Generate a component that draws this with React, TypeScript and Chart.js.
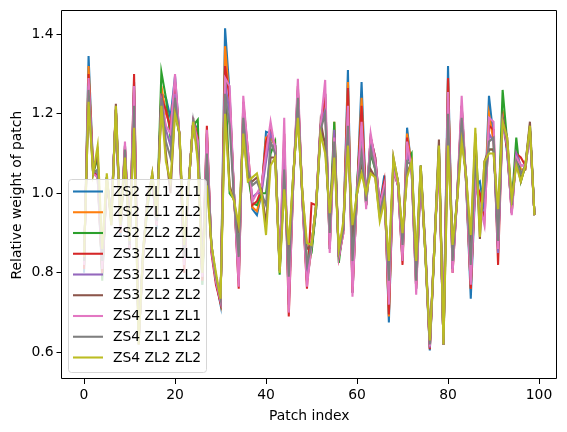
import React, { useEffect, useRef } from "react";
import { Chart, registerables } from "chart.js";
Chart.register(...registerables);

const zs2zl1zl1 = [0.80,1.345,1.06,1.04,0.79,1.03,0.95,1.205,0.89,1.12,0.86,1.28,0.63,0.84,1.0,1.03,0.91,1.25,1.24,1.19,1.295,1.14,0.83,1.02,1.18,1.16,0.77,1.15,0.86,0.78,0.72,1.415,1.25,0.99,0.78,1.22,1.1,0.96,0.945,1.0,1.155,1.15,1.12,0.81,1.13,0.72,1.03,1.26,0.98,0.78,0.86,0.96,1.16,1.25,0.86,1.16,0.84,0.91,1.31,0.75,1.0,1.28,0.97,1.14,1.09,0.97,1.045,0.675,1.06,1.02,0.83,1.165,1.06,0.76,1.05,0.85,0.605,0.86,1.1,0.62,1.32,0.81,0.99,1.22,1.02,0.735,1.02,1.03,0.95,1.245,1.14,0.86,1.2,1.1,0.96,1.1,1.05,1.06,1.16,0.945];
const zs2zl1zl2 = [0.81,1.32,1.06,1.05,0.8,1.03,0.94,1.21,0.9,1.11,0.87,1.26,0.63,0.85,0.99,1.03,0.92,1.27,1.2,1.17,1.27,1.14,0.84,1.02,1.18,1.15,0.78,1.14,0.86,0.78,0.725,1.37,1.23,0.99,0.79,1.21,1.09,0.965,0.955,1.0,1.14,1.14,1.12,0.805,1.12,0.73,1.04,1.25,0.99,0.78,0.86,0.96,1.17,1.22,0.87,1.18,0.84,0.91,1.28,0.76,1.0,1.24,0.97,1.13,1.08,0.96,1.03,0.69,1.06,1.03,0.84,1.15,1.07,0.77,1.06,0.85,0.61,0.86,1.11,0.62,1.29,0.82,0.99,1.21,1.03,0.76,1.05,0.98,0.98,1.2,1.13,0.88,1.21,1.11,0.96,1.11,1.06,1.06,1.16,0.945];
const zs2zl2zl2 = [0.82,1.28,1.05,1.09,0.78,1.04,0.93,1.21,0.91,1.1,0.87,1.22,0.64,0.85,0.97,1.04,0.93,1.305,1.24,1.14,1.2,1.15,0.82,1.03,1.17,1.185,0.77,1.08,0.87,0.79,0.73,1.3,1.0,0.985,0.85,1.18,1.05,0.975,0.97,1.0,1.0,1.1,1.13,0.795,1.05,0.82,1.05,1.2,0.99,0.83,0.85,0.96,1.15,1.13,0.92,1.18,0.825,0.92,1.18,0.84,1.02,1.19,0.97,1.1,1.06,0.95,1.0,0.78,1.08,1.03,0.86,1.08,1.1,0.8,1.07,0.85,0.62,0.86,1.12,0.62,1.2,0.85,0.99,1.15,1.04,0.83,1.14,0.93,1.05,1.11,1.11,0.92,1.26,1.13,0.97,1.14,1.03,1.07,1.17,0.945];
const zs3zl1zl1 = [0.81,1.3,1.06,1.04,0.8,1.03,0.94,1.21,0.9,1.12,0.86,1.3,0.63,0.84,1.0,1.03,0.92,1.24,1.21,1.16,1.28,1.14,0.8,1.02,1.18,1.14,0.78,1.17,0.85,0.77,0.725,1.32,1.24,0.99,0.76,1.23,1.11,0.97,0.98,1.01,1.13,1.16,1.12,0.81,1.15,0.69,1.03,1.27,0.98,0.76,0.975,0.97,1.17,1.25,0.86,1.15,0.84,0.9,1.265,0.75,1.0,1.22,0.97,1.14,1.09,0.97,1.03,0.695,1.06,1.02,0.82,1.14,1.06,0.76,1.05,0.86,0.608,0.87,1.09,0.62,1.29,0.8,0.99,1.22,1.02,0.76,1.03,1.0,0.93,1.17,1.16,0.82,1.19,1.11,0.95,1.1,1.09,1.07,1.16,0.945];
const zs3zl1zl2 = [0.82,1.27,1.06,1.05,0.81,1.03,0.95,1.21,0.91,1.11,0.87,1.26,0.63,0.85,0.99,1.04,0.93,1.25,1.16,1.12,1.25,1.14,0.83,1.02,1.18,1.13,0.79,1.13,0.86,0.78,0.73,1.28,1.2,0.99,0.8,1.2,1.08,0.99,1.0,1.0,1.08,1.15,1.12,0.81,1.1,0.76,1.04,1.24,0.99,0.8,0.87,0.97,1.17,1.21,0.88,1.16,0.84,0.91,1.21,0.8,1.0,1.17,0.97,1.13,1.08,0.96,1.01,0.74,1.07,1.03,0.85,1.1,1.07,0.78,1.06,0.86,0.612,0.87,1.1,0.62,1.24,0.81,0.99,1.19,1.03,0.78,1.04,0.95,0.96,1.15,1.13,0.85,1.19,1.12,0.95,1.1,1.07,1.07,1.16,0.945];
const zs3zl2zl2 = [0.83,1.24,1.05,1.1,0.82,1.04,0.92,1.225,0.92,1.09,0.88,1.18,0.62,0.86,0.98,1.05,0.94,1.25,1.1,1.0,1.21,1.15,0.85,1.02,1.19,1.09,0.8,1.04,0.87,0.78,0.74,1.22,1.02,0.98,0.9,1.16,1.04,1.03,1.04,1.01,0.92,1.09,1.09,0.81,1.03,0.85,1.05,1.2,1.0,0.86,0.87,0.97,1.18,1.12,0.94,1.13,0.85,0.92,1.14,0.89,1.0,1.08,1.0,1.06,1.04,0.94,0.99,0.8,1.09,1.03,0.89,1.05,1.08,0.82,1.07,0.87,0.625,0.87,1.135,0.62,1.14,0.86,0.98,1.15,1.04,0.86,1.15,0.885,1.08,1.11,1.11,0.93,1.19,1.14,0.98,1.08,1.03,1.07,1.18,0.945];
const zs4zl1zl1 = [0.82,1.29,1.05,1.04,0.81,1.03,0.95,1.21,0.91,1.13,0.86,1.27,0.63,0.85,1.0,1.03,0.92,1.23,1.17,1.15,1.3,1.14,0.82,1.02,1.18,1.13,0.79,1.16,0.86,0.78,0.73,1.29,1.27,0.99,0.765,1.245,1.11,0.98,1.0,1.02,1.1,1.18,1.11,0.81,1.19,0.7,1.03,1.288,0.98,0.765,0.87,0.97,1.17,1.285,0.85,1.14,0.84,0.9,1.22,0.74,1.0,1.18,0.96,1.15,1.08,0.97,1.02,0.72,1.06,1.02,0.83,1.13,1.06,0.745,1.05,0.86,0.615,0.87,1.09,0.62,1.255,0.8,0.99,1.245,1.02,0.77,1.03,0.97,0.92,1.19,1.18,0.86,1.18,1.12,0.945,1.09,1.07,1.07,1.15,0.945];
const zs4zl1zl2 = [0.83,1.26,1.05,1.06,0.83,1.04,0.94,1.21,0.92,1.11,0.87,1.22,0.625,0.86,0.99,1.04,0.93,1.24,1.13,1.09,1.24,1.14,0.84,1.02,1.18,1.1,0.8,1.1,0.87,0.79,0.735,1.25,1.17,0.98,0.84,1.19,1.06,1.02,1.03,1.0,0.97,1.13,1.1,0.805,1.06,0.79,1.04,1.24,0.99,0.82,0.87,0.97,1.16,1.2,0.9,1.13,0.85,0.91,1.17,0.83,1.0,1.1,0.98,1.11,1.06,0.95,1.0,0.78,1.08,1.03,0.87,1.08,1.07,0.78,1.06,0.86,0.62,0.87,1.11,0.62,1.2,0.83,0.99,1.19,1.03,0.82,1.09,0.93,1.01,1.13,1.14,0.88,1.18,1.13,0.97,1.08,1.05,1.07,1.16,0.945];
const zs4zl2zl2 = [0.84,1.23,1.05,1.12,0.86,1.05,0.92,1.22,0.92,1.09,0.88,1.165,0.62,0.86,0.98,1.05,0.94,1.22,1.08,1.03,1.2,1.15,0.87,1.02,1.18,1.08,0.8,1.02,0.87,0.8,0.735,1.2,1.01,0.98,0.92,1.15,1.03,1.04,1.05,1.0,0.895,1.07,1.09,0.8,1.01,0.87,1.05,1.19,1.0,0.875,0.87,0.97,1.15,1.1,0.95,1.09,0.86,0.93,1.12,0.92,1.0,1.05,1.0,1.05,1.04,0.93,0.98,0.83,1.09,1.03,0.9,1.04,1.08,0.83,1.07,0.85,0.63,0.86,1.12,0.62,1.12,0.87,0.98,1.13,1.04,0.895,1.165,0.89,1.08,1.1,1.1,0.96,1.18,1.14,0.985,1.07,1.03,1.07,1.17,0.945];

const seriesNames = ["ZS2 ZL1 ZL1","ZS2 ZL1 ZL2","ZS2 ZL2 ZL2","ZS3 ZL1 ZL1","ZS3 ZL1 ZL2","ZS3 ZL2 ZL2","ZS4 ZL1 ZL1","ZS4 ZL1 ZL2","ZS4 ZL2 ZL2"];
const seriesValues = [zs2zl1zl1,zs2zl1zl2,zs2zl2zl2,zs3zl1zl1,zs3zl1zl2,zs3zl2zl2,zs4zl1zl1,zs4zl1zl2,zs4zl2zl2];
const seriesColors = ["#1f77b4","#ff7f0e","#2ca02c","#d62728","#9467bd","#8c564b","#e377c2","#7f7f7f","#bcbd22"];
const font = { family: "'DejaVu Sans'", size: 13.9 };
const tickGrid = { drawOnChartArea: false, drawTicks: true, tickLength: 5, tickWidth: 1, tickColor: "#000", color: "#000" };

export default function App() {
  const ref = useRef<HTMLCanvasElement>(null);
  useEffect(() => {
    const overlay = {
      id: "overlay",
      afterDraw(c: any) {
        const g = c.ctx;
        const a = c.chartArea;
        g.save();
        g.strokeStyle = "#000";
        g.lineWidth = 1;
        g.beginPath();
        const l = Math.floor(a.left) + 0.5, t = Math.round(a.top) - 0.5;
        const r = Math.floor(a.right) - 0.5, b = Math.round(a.bottom) - 0.5;
        g.rect(l, t, r - l, b - t);
        g.stroke();
        g.beginPath();
        g.roundRect(68.5, 179.5, 138, 193, 3);
        g.fillStyle = "rgba(255,255,255,0.8)";
        g.fill();
        g.strokeStyle = "#d6d6d6";
        g.stroke();
        g.font = "13.9px 'DejaVu Sans'";
        g.textBaseline = "middle";
        seriesNames.forEach((n, i) => {
          const yy = 191.5 + i * 20.75;
          g.strokeStyle = seriesColors[i];
          g.lineWidth = 2.08;
          g.beginPath();
          g.moveTo(73, yy);
          g.lineTo(103, yy);
          g.stroke();
          g.fillStyle = "#000";
          g.fillText(n, 113, yy + 0.5);
        });
        g.restore();
      },
    };
    const chart = new Chart(ref.current!, {
      type: "line",
      data: {
        labels: seriesValues[0].map((_, i) => i),
        datasets: seriesNames.map((n, i) => ({
          label: n,
          data: seriesValues[i].map((v, k) => ({ x: k, y: v })),
          borderColor: seriesColors[i],
          backgroundColor: seriesColors[i],
          borderWidth: 2.08,
          pointRadius: 0,
          tension: 0,
          order: 9 - i,
        })),
      },
      options: {
        animation: false,
        responsive: false,
        layout: { padding: { left: 9, right: 10, top: 10, bottom: 7 } },
        plugins: { legend: { display: false }, tooltip: { enabled: false } },
        scales: {
          x: {
            type: "linear",
            min: -4.95,
            max: 103.95,
            grid: tickGrid,
            border: { display: false },
            ticks: {
              color: "#000", font, maxRotation: 0, autoSkip: false, padding: 3,
              callback: (v: any) => String(v),
            },
            afterBuildTicks: (a: any) => { a.ticks = [0,20,40,60,80,100].map((value) => ({ value })); },
            afterFit: (a: any) => { a.height = 46; },
            title: { display: true, text: "Patch index", color: "#000", font, padding: { top: 3, bottom: 0 } },
          },
          y: {
            min: 0.533,
            max: 1.4576,
            grid: tickGrid,
            border: { display: false },
            ticks: { color: "#000", font, padding: 3, callback: (v: any) => Number(v).toFixed(1) },
            afterBuildTicks: (a: any) => { a.ticks = [0.6,0.8,1.0,1.2,1.4].map((value) => ({ value })); },
            afterFit: (a: any) => { a.width = 52.5; },
            title: { display: true, text: "Relative weight of patch", color: "#000", font, padding: { top: 0, bottom: 3 } },
          },
        },
      },
      plugins: [overlay],
    } as any);
    return () => chart.destroy();
  }, []);
  return (
    <div style={{ position: "absolute", left: 0, top: 0, width: 567, height: 432, background: "#fff" }}>
      <canvas ref={ref} width={567} height={432} style={{ display: "block" }} />
    </div>
  );
}
